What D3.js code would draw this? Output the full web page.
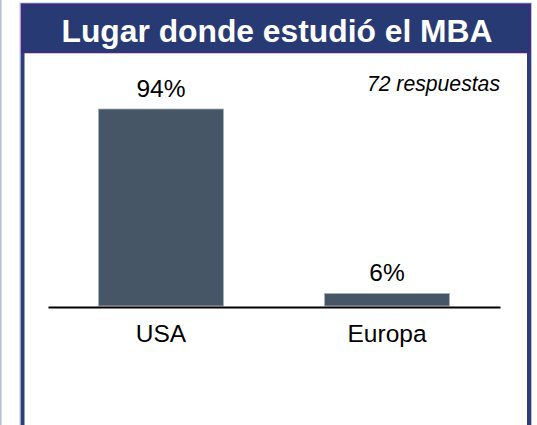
<!DOCTYPE html>
<html>
<head>
<meta charset="utf-8">
<script src="https://cdn.jsdelivr.net/npm/d3@7"></script>
<style>
html, body { margin: 0; padding: 0; background: #ffffff; }
svg { display: block; }
</style>
</head>
<body>
<script>
const categories = ["USA", "Europa"];
const values = [94, 6];
const valueLabels = ["94%", "6%"];
const title = "Lugar donde estudió el MBA";
const note = "72 respuestas";

const W = 537, H = 425;
const svg = d3.select("body").append("svg").attr("width", W).attr("height", H);

// faint left edge line
svg.append("rect").attr("x", 0).attr("y", 0).attr("width", 1.5).attr("height", H).attr("fill", "#b3bbd6");

// panel border
svg.append("rect")
  .attr("x", 22.5).attr("y", 5).attr("width", 506.5).attr("height", H + 20)
  .attr("fill", "#ffffff").attr("stroke", "#2d3e7a").attr("stroke-width", 4);
svg.append("rect")
  .attr("x", 20).attr("y", 3).attr("width", 511.5).attr("height", H + 20)
  .attr("fill", "none").attr("stroke", "#aab3d2").attr("stroke-width", 0.8);

// header
svg.append("rect")
  .attr("x", 22).attr("y", 5).attr("width", 507).attr("height", 47.5)
  .attr("fill", "#283a73").attr("stroke", "#4a2680").attr("stroke-width", 1.5);
svg.append("text")
  .attr("x", 277).attr("y", 41.5)
  .attr("text-anchor", "middle")
  .attr("font-family", "'Liberation Sans', Arial, sans-serif")
  .attr("font-weight", "bold").attr("font-size", 31.8)
  .attr("fill", "#ffffff").text(title);

// note
svg.append("text")
  .attr("x", 500).attr("y", 91)
  .attr("text-anchor", "end")
  .attr("font-family", "'Liberation Sans', Arial, sans-serif")
  .attr("font-style", "italic").attr("font-size", 21.2)
  .attr("fill", "#000000").text(note);

// scales
const x = d3.scaleBand().domain(categories).range([48, 500]).paddingInner(0.447).paddingOuter(0.2235);
const y = d3.scaleLinear().domain([0, 94]).range([306, 109]);

const data = categories.map((c, i) => ({ c, v: values[i], l: valueLabels[i] }));

svg.selectAll("rect.bar").data(data).enter().append("rect")
  .attr("class", "bar")
  .attr("x", d => x(d.c)).attr("y", d => y(d.v))
  .attr("width", x.bandwidth()).attr("height", d => y(0) - y(d.v))
  .attr("fill", "#475666").attr("stroke", "#a9b0b8").attr("stroke-width", 0.8);

svg.selectAll("text.val").data(data).enter().append("text")
  .attr("class", "val")
  .attr("x", d => x(d.c) + x.bandwidth() / 2).attr("y", d => y(d.v) - 12)
  .attr("text-anchor", "middle")
  .attr("font-family", "'Liberation Sans', Arial, sans-serif")
  .attr("font-size", 24.5).attr("fill", "#000000")
  .text(d => d.l);

// axis
const axis = d3.axisBottom(x).tickSize(0).tickPadding(18);
const gx = svg.append("g").attr("transform", `translate(0,${y(0) + 1})`).call(axis);
gx.select(".domain").attr("stroke", "#000000").attr("stroke-width", 2.2);
gx.selectAll("text")
  .attr("font-family", "'Liberation Sans', Arial, sans-serif")
  .attr("font-size", 24.5).attr("fill", "#000000");
</script>
</body>
</html>
